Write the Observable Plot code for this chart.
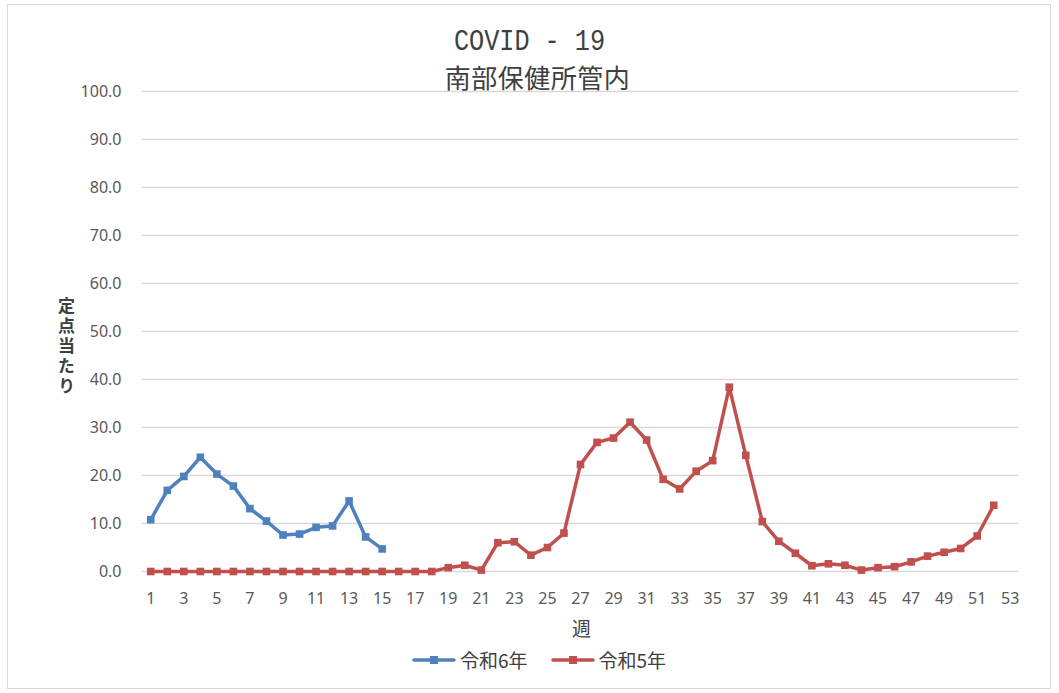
<!DOCTYPE html>
<html><head><meta charset="utf-8">
<script src="https://cdn.jsdelivr.net/npm/d3@7"></script>
<script src="https://cdn.jsdelivr.net/npm/@observablehq/plot@0.6"></script>
<style>
body{margin:0;background:#fff;font-family:"Noto Sans CJK JP","Noto Sans",sans-serif;}
#wrap{position:relative;width:1059px;height:693px;}
#frame{position:absolute;left:7px;top:4px;width:1044px;height:685px;border:1px solid #d9d9d9;box-sizing:border-box;}
#title{position:absolute;left:0;width:1059px;top:24px;text-align:center;font-family:"Liberation Mono","DejaVu Sans Mono",monospace;font-size:30px;color:#404040;line-height:36px;transform:scaleX(0.84);}
#subtitle{position:absolute;left:8px;width:1059px;top:59px;text-align:center;font-size:26px;color:#404040;line-height:36px;letter-spacing:0.5px;}
#ylab{position:absolute;left:56px;top:297px;writing-mode:vertical-rl;text-orientation:upright;font-size:17px;font-weight:bold;color:#404040;letter-spacing:3px;line-height:20px;}
#xlab{position:absolute;left:0;width:1163px;top:614px;text-align:center;font-size:19px;color:#404040;line-height:28px;}
#legend{position:absolute;left:411px;top:646px;display:flex;align-items:center;font-size:19px;color:#404040;line-height:28px;}
.item{display:flex;align-items:center;margin-right:22px;}
.item svg{margin-right:3px;}
#chart{position:absolute;left:0;top:0;}
</style>
</head><body>
<div id="wrap">
<div id="frame"></div>
<div id="chart"></div>
<div id="title">COVID - 19</div>
<div id="subtitle">南部保健所管内</div>
<div id="ylab"></div>
<div id="xlab">週</div>
<div id="legend"></div>
</div>
<script>
const weeksR6 = [1,2,3,4,5,6,7,8,9,10,11,12,13,14,15];
const valuesR6 = [10.8,16.9,19.8,23.8,20.3,17.8,13.1,10.5,7.6,7.8,9.2,9.5,14.7,7.2,4.7];
const weeksR5 = d3.range(1,53);
const valuesR5 = [0,0,0,0,0,0,0,0,0,0,0,0,0,0,0,0,0,0,0.8,1.3,0.3,6.0,6.2,3.4,5.0,8.0,22.3,26.9,27.8,31.1,27.4,19.2,17.2,20.9,23.1,38.4,24.2,10.4,6.3,3.8,1.2,1.6,1.3,0.3,0.8,1.0,2.0,3.2,4.0,4.8,7.4,13.8];
const xTicks = d3.range(1,54,2);
const yTicks = d3.range(0,101,10);
const seriesNames = ["令和6年","令和5年"];
const colors = ["#4F81BD","#C0504D"];
const yTitle = "定点当たり";

document.getElementById("ylab").textContent = yTitle;

const r6 = weeksR6.map((w,i)=>({week:w,value:valuesR6[i],s:seriesNames[0]}));
const r5 = weeksR5.map((w,i)=>({week:w,value:valuesR5[i],s:seriesNames[1]}));

const plot = Plot.plot({
  width:1059, height:693,
  marginLeft:142, marginRight:41, marginTop:91, marginBottom:122,
  style:{fontFamily:'"Noto Sans","Noto Sans CJK JP",sans-serif',fontSize:"16px",color:"#595959",background:"transparent"},
  x:{domain:[0.5,53.5],label:null},
  y:{domain:[0,100],label:null},
  marks:[
    Plot.ruleY(yTicks,{x1:0.5,x2:53.5,stroke:"#d9d9d9",strokeWidth:1.3}),
    Plot.axisX({ticks:xTicks,tickSize:0,tickPadding:21,tickFormat:d=>String(d),label:null,fill:"#595959"}),
    Plot.axisY({ticks:yTicks,tickSize:0,tickPadding:21,tickFormat:d3.format(".1f"),label:null,fill:"#595959"}),
    Plot.line(r5,{x:"week",y:"value",stroke:colors[1],strokeWidth:3.5,strokeLinejoin:"round"}),
    Plot.dot(r5,{x:"week",y:"value",symbol:"square",r:4.3,fill:colors[1]}),
    Plot.line(r6,{x:"week",y:"value",stroke:colors[0],strokeWidth:3.5,strokeLinejoin:"round"}),
    Plot.dot(r6,{x:"week",y:"value",symbol:"square",r:4.3,fill:colors[0]})
  ]
});
document.getElementById("chart").appendChild(plot);

const legend = document.getElementById("legend");
seriesNames.forEach((n,i)=>{
  const it = document.createElement("div"); it.className="item";
  it.innerHTML = `<svg width="46" height="12"><line x1="3" y1="6" x2="43" y2="6" stroke="${colors[i]}" stroke-width="3.5" stroke-linecap="round"/><rect x="19" y="2" width="8" height="8" fill="${colors[i]}"/></svg><span>${n}</span>`;
  legend.appendChild(it);
});
</script>
</body></html>
